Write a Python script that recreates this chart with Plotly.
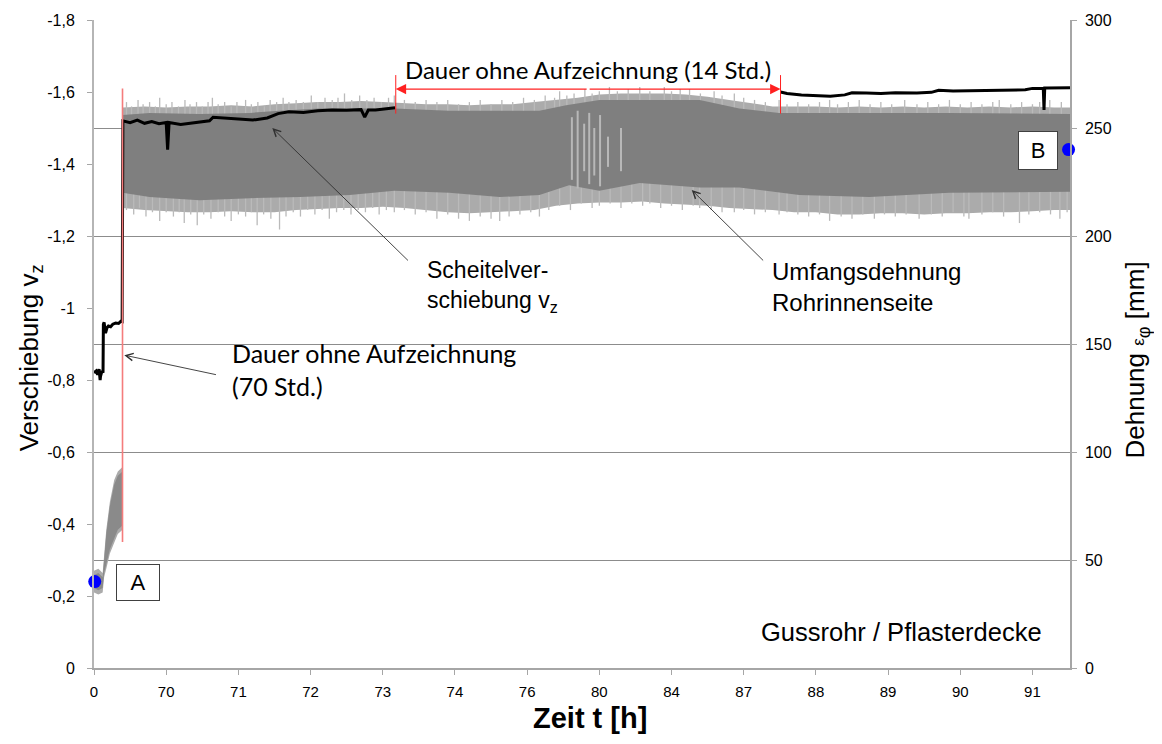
import plotly.graph_objects as go

# ---------------- data ----------------
x_tick_pos = list(range(14))
x_tick_text = ["0", "70", "71", "72", "73", "74", "76", "80", "84", "87", "88", "89", "90", "91"]

left_tick_vals = [0, -0.2, -0.4, -0.6, -0.8, -1.0, -1.2, -1.4, -1.6, -1.8]
left_tick_text = ["0", "-0,2", "-0,4", "-0,6", "-0,8", "-1", "-1,2", "-1,4", "-1,6", "-1,8"]
right_tick_vals = [0, 50, 100, 150, 200, 250, 300]

# Scheitelverschiebung v_z (left axis) -- x in axis-category units
vz_x = [0.0, 0.03, 0.05, 0.07, 0.085, 0.09, 0.11, 0.125,
        0.13, 0.14, 0.16, 0.18, 0.2, 0.23, 0.26, 0.3, 0.34, 0.37, 0.39,
        0.40, 0.5, 0.6, 0.7, 0.8, 0.9, 1.0, 1.02, 1.04, 1.2, 1.4, 1.6, 1.65, 1.8,
        2.0, 2.2, 2.4, 2.55, 2.7, 2.9, 3.1, 3.3, 3.5, 3.7, 3.75, 3.8, 3.9, 4.05, 4.17,
        None,
        9.51, 9.6, 9.8, 10.0, 10.2, 10.4, 10.5, 10.7, 10.9, 11.1, 11.4, 11.6, 11.7,
        11.9, 12.1, 12.3, 12.5, 12.7, 12.9, 13.0, 13.15, 13.16, 13.17, 13.2, 13.52]
vz_y = [-0.82, -0.825, -0.815, -0.83, -0.80, -0.81, -0.825, -0.82,
        -0.955, -0.96, -0.93, -0.945, -0.95, -0.948, -0.955, -0.958, -0.957, -0.963, -0.962,
        -1.52, -1.515, -1.522, -1.513, -1.518, -1.512, -1.515, -1.44, -1.515, -1.51, -1.515, -1.52, -1.53, -1.528,
        -1.525, -1.522, -1.528, -1.54, -1.545, -1.543, -1.548, -1.55, -1.549, -1.551, -1.53, -1.55, -1.55, -1.554, -1.556,
        None,
        -1.60, -1.596, -1.592, -1.589, -1.588, -1.592, -1.598, -1.597, -1.596, -1.598, -1.597, -1.599, -1.605,
        -1.603, -1.604, -1.604, -1.606, -1.607, -1.606, -1.61, -1.61, -1.55, -1.611, -1.611, -1.612]

# Umfangsdehnung (right axis, mm) -- early part before the 70 h gap
early_x = [0.0, 0.06, 0.12, 0.14, 0.17, 0.22, 0.28, 0.33, 0.395]
early_hi = [43, 44, 42, 50, 62, 75, 85, 89, 91]
early_lo = [37, 36, 37, 44, 48, 55, 60, 64, 66]

# Umfangsdehnung -- dark core envelope
core_x = [0.395, 0.77, 1.46, 2.16, 2.57, 3.12, 3.68, 4.16, 4.92, 5.62, 6.17, 6.54,
          7.0, 7.56, 8.39, 8.94, 9.49, 10.46, 11.85, 13.52]
core_hi = [256, 257, 256.5, 257, 258, 259, 259, 259, 258, 258, 258, 260.5,
           263, 263, 263, 259, 257, 257, 257, 256.5]
core_lo_x = [0.395, 0.77, 1.46, 2.16, 2.85, 3.54, 4.16, 4.92, 5.62, 6.17, 6.58,
             7.0, 7.56, 8.39, 8.94, 9.77, 10.74, 11.85, 13.52]
core_lo = [220, 218, 216.5, 217.5, 218, 219, 221, 220, 218, 219, 223.5,
           221, 224.5, 222.5, 222.5, 219, 218, 220, 220.5]

# Umfangsdehnung -- light outer fringe
fr_hi_x = [0.40, 0.7, 1.0, 1.3, 1.6, 1.9, 2.2, 2.5, 2.8, 3.1, 3.4, 3.7, 4.0, 4.3, 4.6, 4.9,
           5.2, 5.5, 5.8, 6.1, 6.4, 6.7, 7.0, 7.3, 7.6, 7.9, 8.2, 8.5, 8.8, 9.1, 9.4, 9.7,
           10.0, 10.3, 10.6, 10.9, 11.2, 11.5, 11.8, 12.1, 12.4, 12.7, 13.0, 13.3, 13.52]
fr_hi = [259.5, 260, 259.5, 260, 260, 260.5, 260, 261, 261.5, 262, 262, 262.5, 262, 261.5, 261, 261,
         260.5, 261, 261, 262, 263, 264, 265.5, 266, 266, 266, 265.5, 264.5, 263, 261.5, 260, 260,
         260, 259.5, 260, 259.5, 260, 259.5, 260, 259.5, 260, 259.5, 260, 259.5, 259.5]
fr_lo_x = [0.40, 0.7, 1.0, 1.3, 1.6, 1.9, 2.2, 2.5, 2.8, 3.1, 3.4, 3.7, 4.0, 4.3, 4.6, 4.9,
           5.2, 5.5, 5.8, 6.1, 6.4, 6.7, 7.0, 7.3, 7.6, 7.9, 8.2, 8.5, 8.8, 9.1, 9.4, 9.7,
           10.0, 10.3, 10.6, 10.9, 11.2, 11.5, 11.8, 12.1, 12.4, 12.7, 13.0, 13.3, 13.52]
fr_lo = [213, 212, 211.5, 211, 211, 211.5, 211, 211, 212, 212.5, 213, 213, 213.5, 213, 212, 211,
         210.5, 211, 211.5, 212, 214, 215, 215.5, 215.5, 216, 215, 214.5, 214, 213, 212.5, 212, 211,
         211, 210, 210, 210.5, 210.5, 210, 210.5, 210.5, 211, 211, 211.5, 212, 212]

# individual light spikes of the oscillation (tip values, mm)
spk_up_x = [0.45, 0.52, 0.61, 0.68, 0.77, 0.85, 0.91, 1.0, 1.08, 1.17, 1.26, 1.33, 1.42, 1.5,
            1.58, 1.64, 1.72, 1.81, 1.9, 1.98, 2.1, 2.18, 2.27, 2.36, 2.44, 2.53, 2.62, 2.7,
            2.8, 2.9, 3.01, 3.1, 3.2, 3.3, 3.38, 3.47, 3.57, 3.68, 3.78, 3.88, 3.98, 4.08, 4.16,
            4.3, 4.45, 4.6, 4.75, 4.9, 5.05, 5.2, 5.35, 5.5, 5.65, 5.8, 5.95, 6.1, 6.25, 6.38,
            6.45, 6.55, 6.65, 6.8, 6.9, 7.0, 7.14, 7.25, 7.4, 7.56, 7.7, 7.9, 8.0, 8.12, 8.25,
            8.4, 8.59, 8.7, 8.87, 9.0, 9.15, 9.3, 9.49, 9.6, 9.75, 9.9, 10.05, 10.19, 10.3,
            10.45, 10.6, 10.75, 10.9, 11.05, 11.23, 11.4, 11.55, 11.7, 11.85, 12.0, 12.15,
            12.3, 12.45, 12.54, 12.7, 12.85, 13.0, 13.1, 13.24, 13.4]
spk_up = [262, 260, 263, 261, 262, 260, 264, 261, 262, 260, 263, 261, 262, 260,
          262, 264, 261, 262, 260, 262, 263, 261, 262, 260, 263, 262, 264, 262,
          263, 262, 265, 262, 264, 263, 264, 266, 263, 265, 263, 264, 262, 264, 265,
          263, 262, 263, 262, 263, 261, 262, 263, 261, 263, 262, 264, 263, 265, 264,
          267, 265, 266, 268, 266, 267, 269, 267, 268, 269, 267, 269, 267, 268, 268,
          266, 267, 265, 266, 264, 263, 262, 263, 261, 262, 261, 262, 263, 261,
          262, 263, 261, 262, 261, 263, 261, 262, 261, 263, 261, 262,
          261, 262, 263, 261, 262, 261, 262, 263, 262]
spk_dn_x = [0.45, 0.55, 0.63, 0.72, 0.81, 0.91, 1.0, 1.1, 1.18, 1.25, 1.34, 1.43, 1.52, 1.62,
            1.72, 1.81, 1.9, 2.0, 2.1, 2.18, 2.26, 2.35, 2.45, 2.57, 2.66, 2.76, 2.86, 2.96,
            3.06, 3.16, 3.26, 3.36, 3.46, 3.56, 3.66, 3.76, 3.86, 3.95, 4.05, 4.16,
            4.3, 4.45, 4.6, 4.75, 4.9, 5.05, 5.2, 5.35, 5.5, 5.62, 5.75, 5.9, 6.05, 6.17, 6.3,
            6.45, 6.6, 6.75, 6.9, 7.0, 7.15, 7.3, 7.45, 7.6, 7.7, 7.85, 8.0, 8.15, 8.3, 8.39,
            8.55, 8.7, 8.87, 9.0, 9.15, 9.3, 9.49, 9.6, 9.75, 9.9, 10.05, 10.19, 10.35, 10.5,
            10.65, 10.81, 10.95, 11.1, 11.25, 11.43, 11.6, 11.75, 11.9, 12.05, 12.12, 12.3,
            12.45, 12.6, 12.82, 12.95, 13.1, 13.25, 13.38, 13.48]
spk_dn = [212, 210, 213, 209, 211, 207, 211, 209, 211, 206, 210, 205, 210, 208,
          211, 209, 207, 210, 209, 211, 205, 210, 208, 203, 209, 211, 209, 212,
          210, 212, 208, 211, 212, 210, 212, 211, 213, 210, 212, 211,
          212, 210, 211, 208, 210, 208, 207, 209, 208, 207, 209, 210, 211, 209, 212,
          214, 212, 215, 213, 214, 215, 213, 215, 214, 215, 213, 214, 212, 214, 213,
          212, 211, 211, 212, 210, 211, 210, 211, 210, 209, 210, 207, 209, 208,
          210, 208, 210, 209, 210, 208, 210, 209, 211, 209, 208, 210,
          211, 209, 206, 210, 211, 210, 208, 211]

# light gaps inside the band (around 80 h)
gap_x = [6.62, 6.70, 6.79, 6.86, 6.93, 7.01, 7.12, 7.3]
gap_hi = [255, 258, 252, 257, 250, 256, 246, 250]
gap_lo = [226, 222, 230, 224, 228, 223, 232, 230]

# marked points A and B (right axis, mm)
pt_x = [0.01, 13.5]
pt_y = [40, 240]

# ---------------- figure ----------------
fig = go.Figure()
GREY_F = "#ababab"
GREY_S = "#bababa"
GREY_D = "#7f7f7f"

# early part
fig.add_trace(go.Scatter(x=early_x + early_x[::-1], y=[h + 2 for h in early_hi] + [l - 2 for l in early_lo][::-1],
                         fill="toself", fillcolor=GREY_F, line=dict(width=0), mode="lines",
                         hoverinfo="skip", yaxis="y"))
fig.add_trace(go.Scatter(x=early_x + early_x[::-1], y=early_hi + early_lo[::-1],
                         fill="toself", fillcolor="#8a8a8a", line=dict(width=0), mode="lines",
                         hoverinfo="skip", yaxis="y"))
# fringe
fig.add_trace(go.Scatter(x=fr_hi_x + fr_lo_x[::-1], y=fr_hi + fr_lo[::-1],
                         fill="toself", fillcolor=GREY_F, line=dict(width=0),
                         mode="lines", hoverinfo="skip", yaxis="y"))
# spikes
sx, sy = [], []
for x0, v in zip(spk_up_x, spk_up):
    sx += [x0, x0, None]
    sy += [v, 250, None]
for x0, v in zip(spk_dn_x, spk_dn):
    sx += [x0, x0, None]
    sy += [v, 225, None]
fig.add_trace(go.Scatter(x=sx, y=sy, mode="lines", line=dict(color=GREY_S, width=1.3),
                         hoverinfo="skip", yaxis="y"))
# core
fig.add_trace(go.Scatter(x=core_x + core_lo_x[::-1], y=core_hi + core_lo[::-1],
                         fill="toself", fillcolor=GREY_D, line=dict(width=0),
                         mode="lines", hoverinfo="skip", yaxis="y"))
# gaps
gx, gy = [], []
for x0, h, l in zip(gap_x, gap_hi, gap_lo):
    gx += [x0, x0, None]
    gy += [h, l, None]
fig.add_trace(go.Scatter(x=gx, y=gy, mode="lines", line=dict(color="#b8b8b8", width=2),
                         hoverinfo="skip", yaxis="y"))
# points A, B
fig.add_trace(go.Scatter(x=pt_x, y=pt_y, mode="markers", marker=dict(color="#0000ff", size=13),
                         cliponaxis=False, hoverinfo="skip", yaxis="y"))
# vz line
fig.add_trace(go.Scatter(x=vz_x, y=vz_y, mode="lines", line=dict(color="#000000", width=3),
                         connectgaps=False, hoverinfo="skip", yaxis="y2"))

ARIAL = "Liberation Sans, Arial, sans-serif"
CALIBRI = "Lato, Open Sans, sans-serif"

fig.update_layout(
    width=1146, height=728,
    margin=dict(l=86, r=84, t=12, b=68, autoexpand=False),
    paper_bgcolor="white", plot_bgcolor="white",
    showlegend=False,
    font=dict(family=ARIAL, size=16, color="#000000"),
    xaxis=dict(range=[0, 13.52], tickmode="array", tickvals=x_tick_pos, ticktext=x_tick_text,
               automargin=False,
               showgrid=False, zeroline=False, showline=True, linecolor="#a6a6a6", linewidth=1.5,
               ticks="outside", ticklen=5, tickcolor="#a6a6a6", ticklabelstandoff=4,
               tickfont=dict(family=ARIAL, size=15)),
    yaxis=dict(side="right", range=[0, 300], tickmode="array", tickvals=right_tick_vals,
               automargin=False,
               showgrid=True, gridcolor="#8c8c8c", gridwidth=1, zeroline=False,
               showline=True, linecolor="#a6a6a6", linewidth=1.5,
               ticks="outside", ticklen=5, tickcolor="#a6a6a6", ticklabelstandoff=5,
               tickfont=dict(family=ARIAL, size=16)),
    yaxis2=dict(overlaying="y", side="left", range=[0, -1.8], tickmode="array",
                tickvals=left_tick_vals, ticktext=left_tick_text, automargin=False,
                showgrid=False, zeroline=False, showline=True, linecolor="#b5b5b5", linewidth=2,
                ticks="outside", ticklen=5, tickcolor="#a6a6a6", ticklabelstandoff=9,
                tickfont=dict(family=ARIAL, size=16)),
)

# red marker lines
fig.add_shape(type="line", xref="x", yref="y2", x0=0.395, x1=0.395, y0=-0.35, y1=-1.61,
              line=dict(color="#f47c7c", width=1.6), layer="above")
for xv in (4.18, 9.51):
    fig.add_shape(type="line", xref="x", yref="y2", x0=xv, x1=xv, y0=-1.54, y1=-1.647,
                  line=dict(color="#ff2020", width=1), layer="above")

anns = []
# axis titles
anns.append(dict(x=-0.0655, y=0.478, xref="paper", yref="paper", text="Verschiebung v<sub>z</sub>",
                 textangle=-90, showarrow=False, font=dict(family=ARIAL, size=26),
                 xanchor="center", yanchor="middle"))
anns.append(dict(x=1.0686, y=0.476, xref="paper", yref="paper",
                 text="Dehnung <span style='font-size:17px'>ε</span><sub>φ</sub> [mm]",
                 textangle=-90, showarrow=False, font=dict(family=ARIAL, size=26),
                 xanchor="center", yanchor="middle"))
anns.append(dict(x=0.508, y=-0.077, xref="paper", yref="paper", text="<b>Zeit t [h]</b>",
                 showarrow=False, font=dict(family=ARIAL, size=29), xanchor="center", yanchor="middle"))
# 14 Std. double arrow
for xv in (4.18, 9.51):
    anns.append(dict(x=xv, y=-1.608, xref="x", yref="y2", ax=6.845, ay=-1.608, axref="x", ayref="y2",
                     text="", showarrow=True, arrowhead=2, arrowsize=1.6, arrowwidth=1.3,
                     arrowcolor="#ff2020"))
anns.append(dict(x=6.84, y=277, xref="x", yref="y", text="Dauer ohne Aufzeichnung (14 Std.)",
                 showarrow=False, font=dict(family=CALIBRI, size=24), xanchor="center", yanchor="middle"))
# 70 Std.
anns.append(dict(x=0.42, y=-0.869, xref="x", yref="y2", ax=1.71, ay=-0.814, axref="x", ayref="y2",
                 text="", showarrow=True, arrowhead=5, arrowsize=1.6, arrowwidth=0.9, arrowcolor="#303030"))
anns.append(dict(x=1.89, y=138, xref="x", yref="y", text="Dauer ohne Aufzeichnung<br>(70 Std.)",
                 showarrow=False, font=dict(family=CALIBRI, size=25), xanchor="left", yanchor="middle",
                 align="left"))
# Scheitelverschiebung
anns.append(dict(x=2.47, y=-1.5, xref="x", yref="y2", ax=4.37, ay=-1.128, axref="x", ayref="y2",
                 text="", showarrow=True, arrowhead=5, arrowsize=1.6, arrowwidth=0.9, arrowcolor="#303030"))
anns.append(dict(x=4.58, y=176.4, xref="x", yref="y", text="Scheitelver-<br>schiebung v<sub>z</sub>",
                 showarrow=False, font=dict(family=ARIAL, size=23), xanchor="left", yanchor="middle",
                 align="left"))
# Umfangsdehnung
anns.append(dict(x=8.28, y=221.3, xref="x", yref="y", ax=9.29, ay=188, axref="x", ayref="y",
                 text="", showarrow=True, arrowhead=5, arrowsize=1.6, arrowwidth=0.9, arrowcolor="#303030"))
anns.append(dict(x=9.36, y=176.4, xref="x", yref="y", text="Umfangsdehnung<br>Rohrinnenseite",
                 showarrow=False, font=dict(family=ARIAL, size=24), xanchor="left", yanchor="middle",
                 align="left"))
# case label
anns.append(dict(x=13.16, y=16.7, xref="x", yref="y", text="Gussrohr / Pflasterdecke",
                 showarrow=False, font=dict(family=ARIAL, size=25.5), xanchor="right", yanchor="middle"))
# boxes A and B
anns.append(dict(x=0.61, y=39.8, xref="x", yref="y", text="A", showarrow=False,
                 font=dict(family=ARIAL, size=22), bgcolor="white", bordercolor="#404040",
                 borderwidth=1, width=40, height=33))
anns.append(dict(x=13.07, y=239.8, xref="x", yref="y", text="B", showarrow=False,
                 font=dict(family=ARIAL, size=22), bgcolor="white", bordercolor="#404040",
                 borderwidth=1, width=36, height=35))
fig.update_layout(annotations=anns)

fig.write_html("out.html")
